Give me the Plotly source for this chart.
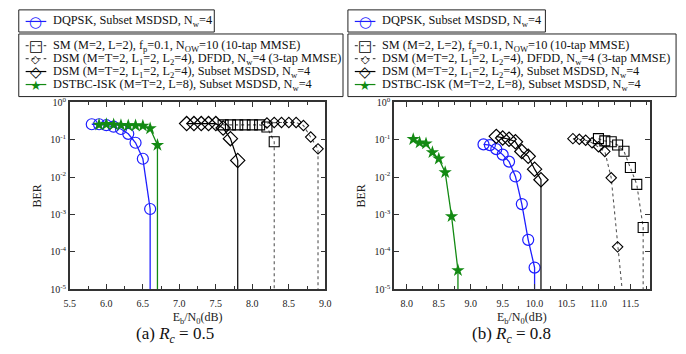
import plotly.graph_objects as go

# ---------------- data (BER vs Eb/N0) ----------------
# (a) Rc = 0.5
a_dqpsk_x = [5.8, 5.9, 6.0, 6.1, 6.2, 6.3, 6.4, 6.5, 6.6]
a_dqpsk_y = [0.26, 0.26, 0.245, 0.223, 0.194, 0.144, 0.083, 0.031, 0.0014]
a_sm_x = [7.6, 7.7, 7.8, 7.9, 8.0, 8.1, 8.2, 8.3]
a_sm_y = [0.25, 0.25, 0.25, 0.25, 0.25, 0.25, 0.22, 0.088]
a_dfdd_x = [8.2, 8.3, 8.4, 8.5, 8.6, 8.7, 8.8, 8.9]
a_dfdd_y = [0.28, 0.29, 0.29, 0.29, 0.29, 0.24, 0.118, 0.057]
a_dsm_x = [7.1, 7.2, 7.3, 7.4, 7.5, 7.6, 7.7, 7.8]
a_dsm_y = [0.27, 0.27, 0.27, 0.27, 0.27, 0.205, 0.107, 0.028]
a_dstbc_x = [5.9, 6.0, 6.1, 6.2, 6.3, 6.4, 6.5, 6.6, 6.7]
a_dstbc_y = [0.25, 0.26, 0.255, 0.245, 0.24, 0.24, 0.235, 0.2, 0.072]

# (b) Rc = 0.8
b_dqpsk_x = [9.2, 9.3, 9.4, 9.5, 9.6, 9.7, 9.8, 9.9, 10.0]
b_dqpsk_y = [0.075, 0.072, 0.056, 0.040, 0.026, 0.0104, 0.0019, 0.00021, 3.8e-5]
b_sm_x = [11.0, 11.1, 11.2, 11.3, 11.4, 11.5, 11.6, 11.7]
b_sm_y = [0.107, 0.093, 0.088, 0.072, 0.049, 0.018, 0.0064, 0.00045]
b_dfdd_x = [10.6, 10.7, 10.8, 10.9, 11.0, 11.1, 11.2, 11.3, 11.4]
b_dfdd_y = [0.107, 0.103, 0.097, 0.083, 0.065, 0.0485, 0.0096, 0.000136, 3e-6]
b_dsm_x = [9.4, 9.5, 9.6, 9.7, 9.8, 9.9, 10.0, 10.1]
b_dsm_y = [0.123, 0.111, 0.103, 0.088, 0.0485, 0.036, 0.0163, 0.0085]
b_dstbc_x = [8.1, 8.2, 8.3, 8.4, 8.5, 8.6, 8.7, 8.8]
b_dstbc_y = [0.103, 0.084, 0.079, 0.046, 0.031, 0.0134, 0.00089, 3.2e-5]

# error-free (BER = 0) continuation drawn as a drop below the axis
ZERO_BER = 1e-12

names = [
    "DQPSK, Subset MSDSD, N<sub>w</sub>=4",
    "SM (M=2, L=2), f<sub>p</sub>=0.1, N<sub>OW</sub>=10 (10-tap MMSE)",
    "DSM (M=T=2, L<sub>1</sub>=2, L<sub>2</sub>=4), DFDD, N<sub>w</sub>=4 (3-tap MMSE)",
    "DSM (M=T=2, L<sub>1</sub>=2, L<sub>2</sub>=4), Subset MSDSD, N<sub>w</sub>=4",
    "DSTBC-ISK (M=T=2, L=8), Subset MSDSD, N<sub>w</sub>=4",
]

x_ticks_a = [5.5, 6.0, 6.5, 7.0, 7.5, 8.0, 8.5, 9.0]
x_ticks_b = [8.0, 8.5, 9.0, 9.5, 10.0, 10.5, 11.0, 11.5]
y_ticks = [1e-5, 1e-4, 1e-3, 1e-2, 1e-1, 1]
y_ticktext = ["10<sup>-5</sup>", "10<sup>-4</sup>", "10<sup>-3</sup>",
              "10<sup>-2</sup>", "10<sup>-1</sup>", "10<sup>0</sup>"]

BLUE = "#1e1eff"
GREEN = "#138a13"
BLACK = "#000000"
DOT = "#555555"
FONT = "Liberation Serif"

styles = [
    dict(line=dict(color=BLUE, width=1.3),
         marker=dict(symbol="circle-open", size=11, color=BLUE, line=dict(width=1.2))),
    dict(line=dict(color=DOT, width=1.1, dash="dot"),
         marker=dict(symbol="square-open", size=10, color=BLACK, line=dict(width=1.1))),
    dict(line=dict(color=DOT, width=1.1, dash="dot"),
         marker=dict(symbol="diamond-open", size=8, color=BLACK, line=dict(width=1.1))),
    dict(line=dict(color=BLACK, width=1.2),
         marker=dict(symbol="diamond-open", size=11, color=BLACK, line=dict(width=1.2))),
    dict(line=dict(color=GREEN, width=1.3),
         marker=dict(symbol="star", size=10, color=GREEN, line=dict(width=0))),
]
# legend-key look (line colour, dash, glyph, glyph colour, glyph size)
keys = [
    (BLUE, "solid", "\u25CB", BLUE, 15),
    (DOT, "dot", "\u25A1", BLACK, 15),
    (DOT, "dot", "\u25C7", BLACK, 11),
    (BLACK, "solid", "\u25C7", BLACK, 15),
    (GREEN, "solid", "\u2605", GREEN, 13),
]

fig = go.Figure()


def add_panel(series, drops, xa, ya):
    for i, ((xs, ys), drop) in enumerate(zip(series, drops)):
        xs = list(xs)
        ys = list(ys)
        if drop:
            xs = xs + [xs[-1]]
            ys = ys + [ZERO_BER]
        fig.add_trace(go.Scatter(
            x=xs, y=ys, mode="lines+markers", name=names[i],
            xaxis=xa, yaxis=ya, showlegend=False, cliponaxis=True, **styles[i]))


add_panel([(a_dqpsk_x, a_dqpsk_y), (a_sm_x, a_sm_y), (a_dfdd_x, a_dfdd_y),
           (a_dsm_x, a_dsm_y), (a_dstbc_x, a_dstbc_y)],
          [True, True, True, True, True], "x", "y")
add_panel([(b_dqpsk_x, b_dqpsk_y), (b_sm_x, b_sm_y), (b_dfdd_x, b_dfdd_y),
           (b_dsm_x, b_dsm_y), (b_dstbc_x, b_dstbc_y)],
          [True, True, False, True, True], "x2", "y2")

W, H = 686, 354
px = lambda v: v / W
py = lambda v: 1 - v / H

axis_common = dict(showline=True, linecolor="#333", linewidth=1.5, mirror="allticks",
                   ticks="inside", ticklen=5, tickcolor="#333", tickwidth=1.2,
                   showgrid=False, zeroline=False,
                   tickfont=dict(family=FONT, size=10, color="#222"))

xcommon = dict(axis_common, tickformat=".1f", ticklabelstandoff=4,
               minor=dict(ticks="inside", ticklen=3, dtick=0.25, tickcolor="#333", showgrid=False),
               title=dict(text="E<sub>b</sub>/N<sub>0</sub>(dB)", standoff=5,
                          font=dict(family=FONT, size=12, color="#222")))
ycommon = dict(axis_common, type="log", range=[-5, 0], tickvals=y_ticks, ticktext=y_ticktext,
               title=dict(text="BER", standoff=6, font=dict(family=FONT, size=12, color="#222")))

fig.update_layout(
    width=W, height=H, margin=dict(l=0, r=0, t=0, b=0),
    paper_bgcolor="white", plot_bgcolor="white", showlegend=False,
    font=dict(family=FONT, size=12, color="#111"),
    xaxis=dict(xcommon, domain=[px(65), px(325)], range=[5.5, 9.0], tickvals=x_ticks_a, anchor="y"),
    yaxis=dict(ycommon, domain=[py(293), py(99)], anchor="x"),
    xaxis2=dict(xcommon, domain=[px(395), px(655)], range=[7.8, 11.8], tickvals=x_ticks_b, anchor="y2"),
    yaxis2=dict(ycommon, domain=[py(293), py(99)], anchor="x2"),
)


# ---------------- hand-built legends (two boxes per panel) ----------------
def legend_box(x0, x1, y0, y1, rows, entries):
    fig.add_shape(type="rect", xref="paper", yref="paper",
                  x0=px(x0), x1=px(x1), y0=py(y1), y1=py(y0),
                  line=dict(color="#222", width=1), fillcolor="white", layer="above")
    for ry, idx in zip(rows, entries):
        lc, dash, glyph, gc, gs = keys[idx]
        fig.add_shape(type="line", xref="paper", yref="paper",
                      x0=px(x0 + 7), x1=px(x0 + 28), y0=py(ry), y1=py(ry),
                      line=dict(color=lc, width=1.2, dash=dash), layer="above")
        fig.add_annotation(text=glyph, x=px(x0 + 17.5), y=py(ry + 0.5), xref="paper", yref="paper",
                           xanchor="center", yanchor="middle", showarrow=False, borderpad=0,
                           font=dict(family="DejaVu Sans", size=gs, color=gc))
        fig.add_annotation(text=names[idx], x=px(x0 + 34), y=py(ry), xref="paper", yref="paper",
                           xanchor="left", yanchor="middle", showarrow=False, borderpad=0,
                           font=dict(family=FONT, size=12.3, color="#111"))


for bx, w1, w2 in [(13, 199, 330), (348, 201, 334)]:
    legend_box(bx, bx + w1, 3, 26, [15], [0])
    legend_box(bx, bx + w2, 28, 93, [40, 53.5, 67, 80.5], [1, 2, 3, 4])

fig.add_annotation(text="(a) <i>R<sub>c</sub></i> = 0.5", x=px(172), y=py(341), xref="paper",
                   yref="paper", xanchor="center", yanchor="middle", showarrow=False,
                   font=dict(family=FONT, size=17, color="#111"))
fig.add_annotation(text="(b) <i>R<sub>c</sub></i> = 0.8", x=px(514), y=py(341), xref="paper",
                   yref="paper", xanchor="center", yanchor="middle", showarrow=False,
                   font=dict(family=FONT, size=17, color="#111"))

fig.write_html("out.html")
